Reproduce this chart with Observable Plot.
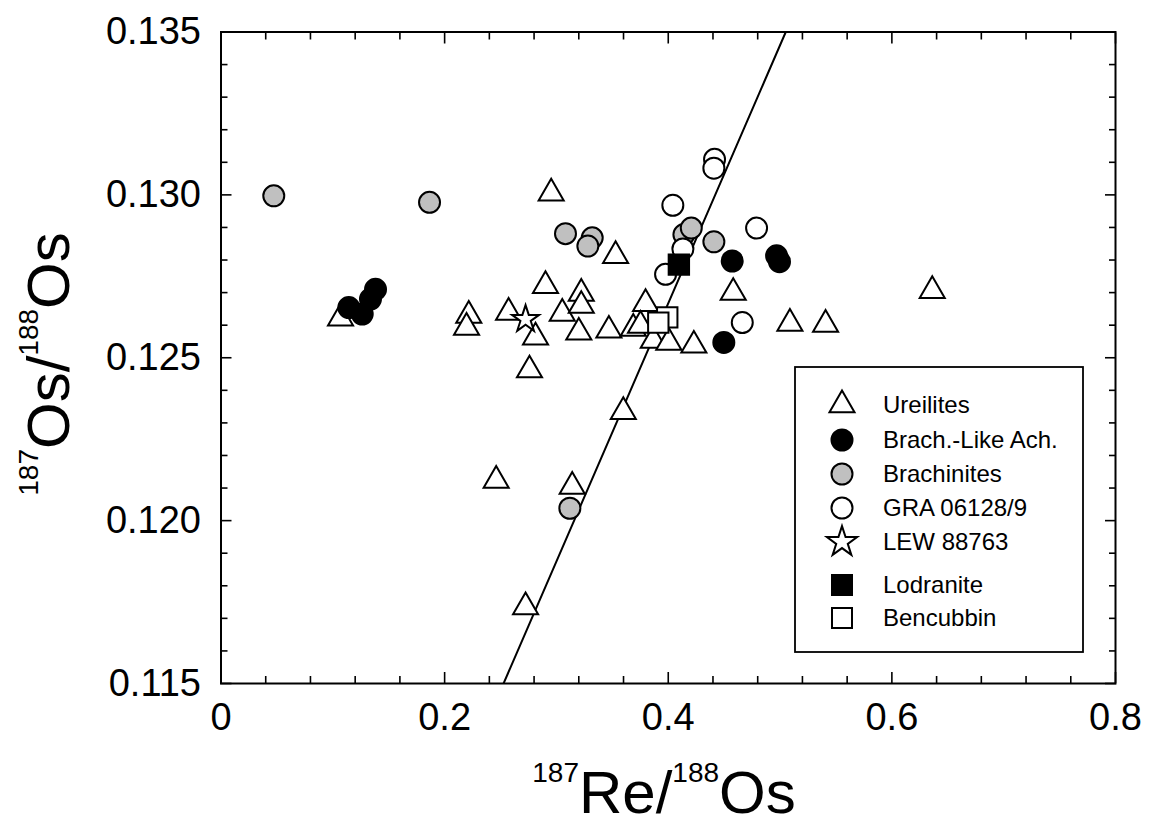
<!DOCTYPE html>
<html><head><meta charset="utf-8">
<script src="https://cdn.jsdelivr.net/npm/d3@7"></script>
<script src="https://cdn.jsdelivr.net/npm/@observablehq/plot@0.6"></script>
<style>body{margin:0;background:#fff;} svg{display:block}</style>
</head><body><div id="chart"></div>
<script>
// ---- data (187Re/188Os, 187Os/188Os) ----
const ureiliteX = [0.1069,0.2216,0.2196,0.2572,0.2953,0.2902,0.3052,0.2813,0.2759,0.3222,0.3222,0.3200,0.3469,0.3529,0.3687,0.3797,0.3752,0.3866,0.4005,0.4229,0.4581,0.5088,0.5407,0.6361,0.3598,0.2461,0.3141,0.2724];
const ureiliteY = [0.12621,0.12630,0.12593,0.12639,0.13005,0.12721,0.12636,0.12563,0.12462,0.12697,0.12660,0.12578,0.12584,0.12813,0.12590,0.12666,0.12599,0.12553,0.12547,0.12538,0.12700,0.12605,0.12602,0.12706,0.12334,0.12123,0.12105,0.11735];
const brachLikeX = [0.1143,0.1263,0.1337,0.1382,0.4572,0.4497,0.4969,0.4995];
const brachLikeY = [0.12654,0.12634,0.12680,0.12710,0.12797,0.12547,0.12813,0.12795];
const brachiniteX = [0.0472,0.1865,0.3081,0.3320,0.3281,0.4140,0.4206,0.4408,0.3120];
const brachiniteY = [0.12997,0.12977,0.12881,0.12868,0.12843,0.12878,0.12898,0.12856,0.12038];
const graX = [0.4414,0.4408,0.4041,0.4131,0.3976,0.4790,0.4662];
const graY = [0.13109,0.13082,0.12968,0.12834,0.12756,0.12898,0.12608];
const lewX = [0.2724];
const lewY = [0.12618];
const lodraniteX = [0.4095];
const lodraniteY = [0.12786];
const bencubbinX = [0.3991,0.3911];
const bencubbinY = [0.12624,0.12608];
const isochronX = [0.2527,0.5051];
const isochronY = [0.115,0.135];

const xTicks = [0,0.2,0.4,0.6,0.8];
const xTickLabels = ["0","0.2","0.4","0.6","0.8"];
const xMinor = [0.04,0.08,0.12,0.16,0.24,0.28,0.32,0.36,0.44,0.48,0.52,0.56,0.64,0.68,0.72,0.76];
const yTicks = [0.115,0.120,0.125,0.130,0.135];
const yTickLabels = ["0.115","0.120","0.125","0.130","0.135"];
const yMinor = [0.116,0.117,0.118,0.119,0.121,0.122,0.123,0.124,0.126,0.127,0.128,0.129,0.131,0.132,0.133,0.134];

const legendNames = ["Ureilites","Brach.-Like Ach.","Brachinites","GRA 06128/9","LEW 88763","Lodranite","Bencubbin"];

const pts = (xs, ys) => xs.map((x, i) => ({x, y: ys[i]}));
const GRAY = "#c0c0c0";
const FONT = "'Liberation Sans', Arial, Helvetica, sans-serif";

const dotOpts = (symbol, r, fill) => ({x: "x", y: "y", symbol, r, fill, stroke: "black", strokeWidth: 2});

const plot = Plot.plot({
  width: 1165, height: 827,
  marginLeft: 220.5, marginRight: 50, marginTop: 31.5, marginBottom: 144,
  style: {fontFamily: FONT, background: "white", color: "black"},
  x: {domain: [0, 0.8], label: null},
  y: {domain: [0.115, 0.135], label: null},
  marks: [
    Plot.line(pts(isochronX, isochronY), {x: "x", y: "y", stroke: "black", strokeWidth: 2, clip: true}),
    // inward ticks on all four sides
    Plot.axisX({ticks: xMinor, anchor: "bottom", tickSize: -7, tickFormat: () => "", label: null, strokeWidth: 1.6}),
    Plot.axisX({ticks: xTicks, anchor: "bottom", tickSize: -11, tickFormat: () => "", label: null, strokeWidth: 1.6}),
    Plot.axisX({ticks: xMinor, anchor: "top", tickSize: -7, tickFormat: () => "", label: null, strokeWidth: 1.6}),
    Plot.axisX({ticks: xTicks, anchor: "top", tickSize: -11, tickFormat: () => "", label: null, strokeWidth: 1.6}),
    Plot.axisY({ticks: yMinor, anchor: "left", tickSize: -7, tickFormat: () => "", label: null, strokeWidth: 1.6}),
    Plot.axisY({ticks: yTicks, anchor: "left", tickSize: -11, tickFormat: () => "", label: null, strokeWidth: 1.6}),
    Plot.axisY({ticks: yMinor, anchor: "right", tickSize: -7, tickFormat: () => "", label: null, strokeWidth: 1.6}),
    Plot.axisY({ticks: yTicks, anchor: "right", tickSize: -11, tickFormat: () => "", label: null, strokeWidth: 1.6}),
    // tick labels
    Plot.axisX({ticks: xTicks, anchor: "bottom", tickSize: 0, tickPadding: 20, fontSize: 38, label: null,
      tickFormat: d => xTickLabels[xTicks.indexOf(d)]}),
    Plot.axisY({ticks: yTicks, anchor: "left", tickSize: 0, tickPadding: 20, fontSize: 38, label: null,
      tickFormat: d => yTickLabels[yTicks.indexOf(d)]}),
    Plot.dot(pts(ureiliteX, ureiliteY), dotOpts("triangle", 9.3, "white")),
    Plot.dot(pts(brachiniteX, brachiniteY), dotOpts("circle", 10.5, GRAY)),
    Plot.dot(pts(graX, graY), dotOpts("circle", 10.5, "white")),
    Plot.dot(pts(brachLikeX, brachLikeY), dotOpts("circle", 10.5, "black")),
    Plot.dot(pts(lewX, lewY), dotOpts("star", 8.5, "white")),
    Plot.dot(pts(bencubbinX, bencubbinY), dotOpts("square", 11.5, "white")),
    Plot.dot(pts(lodraniteX, lodraniteY), dotOpts("square", 11.5, "black")),
    Plot.frame({stroke: "black", strokeWidth: 2})
  ]
});
document.getElementById("chart").appendChild(plot);

const svg = d3.select(plot);

// axis titles with superscripts
const xt = svg.append("text").attr("x", 664).attr("y", 813).attr("text-anchor", "middle")
  .attr("font-family", FONT).attr("fill", "black");
xt.append("tspan").attr("font-size", 28).attr("dy", -31).text("187");
xt.append("tspan").attr("font-size", 60).attr("dy", 31).text("Re/");
xt.append("tspan").attr("font-size", 28).attr("dy", -31).text("188");
xt.append("tspan").attr("font-size", 60).attr("dy", 31).text("Os");

const yt = svg.append("text").attr("transform", "translate(69,364) rotate(-90)").attr("text-anchor", "middle")
  .attr("font-family", FONT).attr("fill", "black");
yt.append("tspan").attr("font-size", 28).attr("dy", -31).text("187");
yt.append("tspan").attr("font-size", 60).attr("dy", 31).text("Os/");
yt.append("tspan").attr("font-size", 28).attr("dy", -31).text("188");
yt.append("tspan").attr("font-size", 60).attr("dy", 31).text("Os");

// legend
const legendStyles = [
  {type: d3.symbolTriangle, size: Math.PI * 9.3 * 9.3, fill: "white"},
  {type: d3.symbolCircle, size: Math.PI * 10.5 * 10.5, fill: "black"},
  {type: d3.symbolCircle, size: Math.PI * 10.5 * 10.5, fill: GRAY},
  {type: d3.symbolCircle, size: Math.PI * 10.5 * 10.5, fill: "white"},
  {type: d3.symbolStar, size: Math.PI * 9.5 * 9.5, fill: "white"},
  {type: d3.symbolSquare, size: 20 * 20, fill: "black"},
  {type: d3.symbolSquare, size: 20 * 20, fill: "white"}
];
const rowY = [405, 440, 474, 508, 542, 585, 618];
const lg = svg.append("g");
lg.append("rect").attr("x", 795).attr("y", 367).attr("width", 288).attr("height", 285)
  .attr("fill", "white").attr("stroke", "black").attr("stroke-width", 1.8);
legendNames.forEach((name, i) => {
  const s = legendStyles[i];
  lg.append("path").attr("transform", `translate(842,${rowY[i]})`)
    .attr("d", d3.symbol(s.type, s.size)()).attr("fill", s.fill)
    .attr("stroke", "black").attr("stroke-width", 2);
  lg.append("text").attr("x", 883).attr("y", rowY[i]).attr("dy", "0.35em").attr("text-anchor", "start")
    .attr("font-family", FONT).attr("font-size", 24).attr("fill", "black").text(name);
});
</script>
</body></html>
